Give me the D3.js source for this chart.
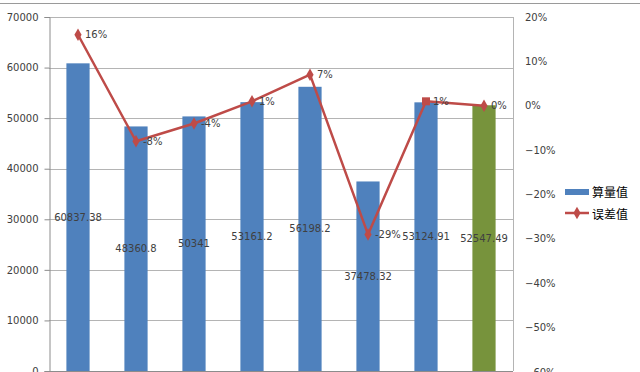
<!DOCTYPE html>
<html>
<head>
<meta charset="utf-8">
<script src="https://cdn.jsdelivr.net/npm/d3@7"></script>
<style>
  body { margin: 0; background: #fff; }
  svg { display: block; font-family: "DejaVu Sans", sans-serif; }
</style>
</head>
<body>
<svg id="chart" width="640" height="372"></svg>
<script>
const categories = ["1", "2", "3", "4", "5", "6", "7", "8"];
const amounts = [60837.38, 48360.8, 50341, 53161.2, 56198.2, 37478.32, 53124.91, 52547.49];
const errors = [0.16, -0.08, -0.04, 0.01, 0.07, -0.29, 0.01, 0.0];
const errorLabels = ["16%", "-8%", "-4%", "1%", "7%", "-29%", "1%", "0%"];
const leftTicks = [0, 10000, 20000, 30000, 40000, 50000, 60000, 70000];
const rightTicks = [0.2, 0.1, 0, -0.1, -0.2, -0.3, -0.4, -0.5, -0.6];
const legendNames = ["算量值", "误差值"];

const svg = d3.select("#chart");
const margin = {left: 49, right: 513, top: 17, bottom: 371};

const x = d3.scaleBand().domain(categories).range([margin.left, margin.right]).paddingInner(0.6).paddingOuter(0.3);
const xc = d3.scaleBand().domain(categories).range([margin.left, margin.right]);
const yL = d3.scaleLinear().domain([0, 70000]).range([margin.bottom, margin.top]);
const yR = d3.scaleLinear().domain([-0.6, 0.2]).range([margin.bottom + 1, margin.top]);

// chart frame top line
svg.append("line").attr("x1", 0).attr("x2", 640).attr("y1", 3.5).attr("y2", 3.5)
  .attr("stroke", "#9a9a9a").attr("stroke-width", 1);

// gridlines
svg.append("g").selectAll("line").data(leftTicks.filter(d => d > 0)).enter().append("line")
  .attr("x1", margin.left).attr("x2", margin.right)
  .attr("y1", d => Math.round(yL(d)) + 0.5).attr("y2", d => Math.round(yL(d)) + 0.5)
  .attr("stroke", "#b4b4b4");

// right plot border
svg.append("line").attr("x1", margin.right + 0.5).attr("x2", margin.right + 0.5)
  .attr("y1", margin.top).attr("y2", margin.bottom).attr("stroke", "#b4b4b4");

// bars
const colors = amounts.map((d, i) => i === amounts.length - 1 ? "#77933C" : "#4F81BD");
svg.append("g").selectAll("rect").data(amounts).enter().append("rect")
  .attr("x", (d, i) => x(categories[i]))
  .attr("width", x.bandwidth())
  .attr("y", d => yL(d))
  .attr("height", d => yL(0) - yL(d))
  .attr("fill", (d, i) => colors[i]);

// left axis
const leftAxis = d3.axisLeft(yL).tickValues(leftTicks).tickFormat(d3.format("d")).tickSize(5).tickPadding(6);
const gL = svg.append("g").attr("transform", `translate(${margin.left + 0.5},0)`).call(leftAxis);
gL.select(".domain").attr("stroke", "#8c8c8c");
gL.selectAll(".tick line").attr("stroke", "#8c8c8c");
gL.selectAll("text").attr("fill", "#404040").style("font-size", "10px").style("font-family", "DejaVu Sans");

// bottom axis with tick marks on category boundaries
svg.append("line").attr("x1", margin.left).attr("x2", margin.right)
  .attr("y1", margin.bottom + 0.5).attr("y2", margin.bottom + 0.5).attr("stroke", "#8c8c8c");
svg.append("g").selectAll("line").data(categories).enter().append("line")
  .attr("x1", d => Math.round(xc(d)) + 0.5).attr("x2", d => Math.round(xc(d)) + 0.5)
  .attr("y1", margin.bottom).attr("y2", margin.bottom + 5).attr("stroke", "#8c8c8c");

// right axis labels
svg.append("g").selectAll("text").data(rightTicks).enter().append("text")
  .attr("x", 525).attr("y", d => yR(d)).attr("dy", "0.35em")
  .attr("fill", "#404040").style("font-size", "10px")
  .text(d => d3.format(".0%")(d));

// bar value labels
svg.append("g").selectAll("text").data(amounts).enter().append("text")
  .attr("x", (d, i) => xc(categories[i]) + xc.bandwidth() / 2)
  .attr("y", d => (yL(d) + yL(0)) / 2).attr("dy", "0.35em")
  .attr("text-anchor", "middle").attr("fill", "#404040").style("font-size", "10px")
  .text(d => d);

// error line
const lineColor = "#BE4B48";
const px = (d, i) => xc(categories[i]) + xc.bandwidth() / 2;
const line = d3.line().x((d, i) => px(d, i)).y(d => yR(d));
svg.append("path").datum(errors).attr("d", line)
  .attr("fill", "none").attr("stroke", lineColor).attr("stroke-width", 2.5).attr("stroke-linejoin", "round");

const diamond = d3.symbol().type(d3.symbolDiamond).size(45);
const square = d3.symbol().type(d3.symbolSquare).size(64);
svg.append("g").selectAll("path").data(errors).enter().append("path")
  .attr("transform", (d, i) => `translate(${px(d, i)},${yR(d)})`)
  .attr("d", (d, i) => i === 6 ? square() : diamond())
  .attr("fill", lineColor);

svg.append("g").selectAll("text").data(errors).enter().append("text")
  .attr("x", (d, i) => px(d, i) + 7)
  .attr("y", d => yR(d)).attr("dy", "0.35em")
  .attr("fill", "#404040").style("font-size", "10px")
  .text((d, i) => errorLabels[i]);

// legend
const lg = svg.append("g");
lg.append("rect").attr("x", 565).attr("y", 189).attr("width", 24).attr("height", 6).attr("fill", "#4F81BD");
lg.append("line").attr("x1", 565).attr("x2", 589).attr("y1", 213).attr("y2", 213)
  .attr("stroke", lineColor).attr("stroke-width", 2.5);
lg.append("path").attr("transform", "translate(577,213)").attr("d", diamond()).attr("fill", lineColor);
lg.selectAll("text").data(legendNames).enter().append("text")
  .attr("x", 592).attr("y", (d, i) => 192 + i * 22).attr("dy", "0.38em")
  .attr("fill", "#000").style("font-size", "12px").style("font-family", "Noto Sans CJK SC")
  .text(d => d);
</script>
</body>
</html>
